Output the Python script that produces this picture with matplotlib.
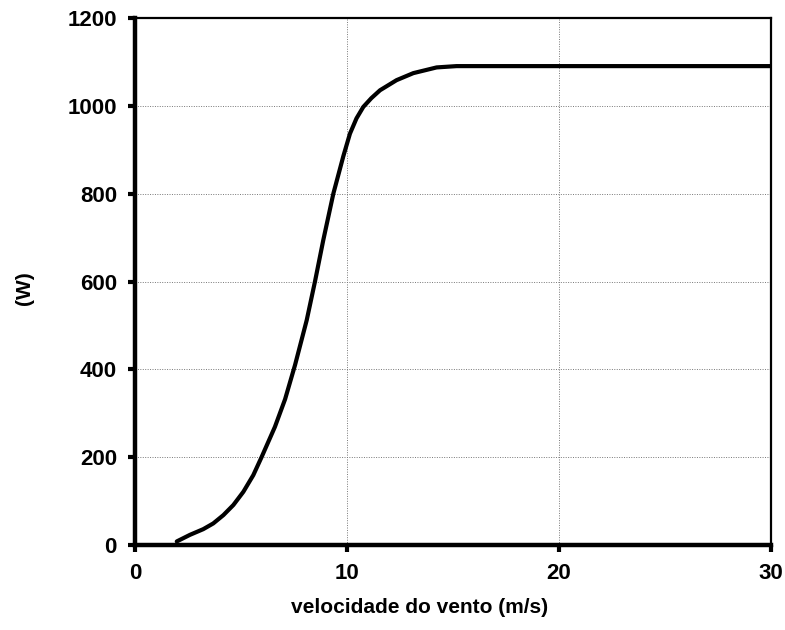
import numpy as np
import matplotlib
matplotlib.use('Agg')
import matplotlib.pyplot as plt
from matplotlib import font_manager

# curva de potencia
vento = [1.97, 2.59, 3.22, 3.69, 4.17, 4.64, 5.11, 5.58, 5.97, 6.6, 7.08, 7.55, 8.1,
         8.49, 8.88, 9.36, 9.62, 9.83, 10.14, 10.45, 10.77, 11.15, 11.56, 12.34,
         13.13, 14.23, 15.17, 17.0, 20.0, 25.0, 30.0]
potencia = [8, 23, 36, 49, 68, 91, 121, 159, 200, 269, 332, 410, 512,
            600, 694, 801, 848, 886, 937, 972, 998, 1018, 1036, 1059,
            1075, 1088, 1091, 1091, 1091, 1091, 1091]

# Arial-like bold font, avoiding the narrow variant
bold_file = None
for f in font_manager.fontManager.ttflist:
    if f.name == 'Liberation Sans' and f.weight in (700, 'bold') and f.style == 'normal' \
            and 'Narrow' not in f.fname:
        bold_file = f.fname
if bold_file:
    fp = lambda size: font_manager.FontProperties(fname=bold_file, size=size)
else:
    fp = lambda size: font_manager.FontProperties(family='DejaVu Sans', weight='bold', size=size)

fig = plt.figure(figsize=(7.85, 6.3), dpi=100)
ax = fig.add_axes([0.172, 0.135, 0.810, 0.836])

ax.plot(vento, potencia, color='black', lw=3, solid_capstyle='round', solid_joinstyle='round')

ax.set_xlim(0, 30)
ax.set_ylim(0, 1200)
ax.set_xticks([0, 10, 20, 30])
ax.set_yticks(np.arange(0, 1201, 200))
ax.grid(True, color='#777777', linestyle=(0, (1, 1.5)), linewidth=0.7)

for s in ['left', 'bottom']:
    ax.spines[s].set_linewidth(3.2)
for s in ['top', 'right']:
    ax.spines[s].set_linewidth(1.6)

ax.tick_params(axis='both', direction='out', length=5, width=3, pad=8)
for lab in ax.get_xticklabels() + ax.get_yticklabels():
    lab.set_fontproperties(fp(16))

ax.set_xlabel('velocidade do vento (m/s)', fontproperties=fp(15))
ax.xaxis.set_label_coords(0.447, -0.101)
ax.set_ylabel('(W)', fontproperties=fp(15))
ax.yaxis.set_label_coords(-0.159, 0.488)

fig.savefig('out.png', dpi=100)
